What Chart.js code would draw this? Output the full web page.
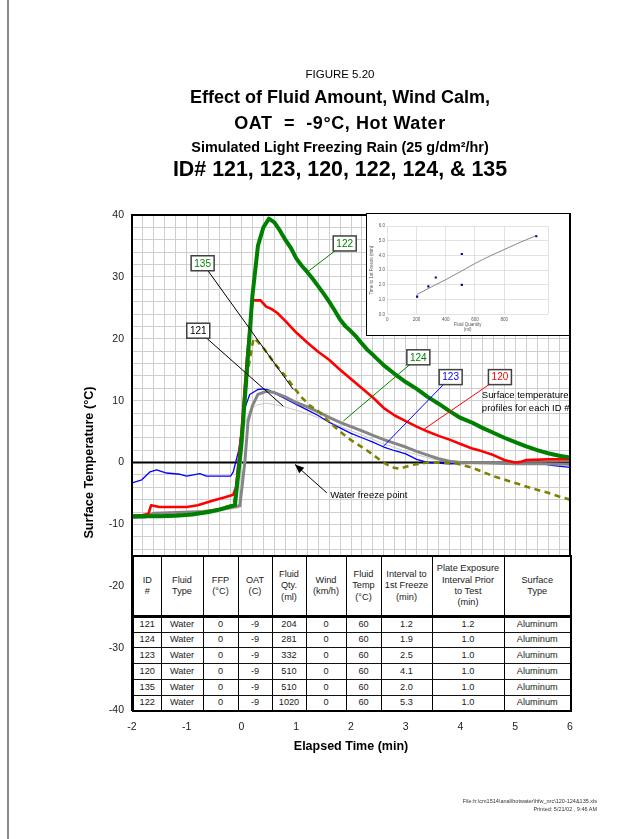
<!DOCTYPE html>
<html>
<head>
<meta charset="utf-8">
<script src="https://cdn.jsdelivr.net/npm/chart.js@4.4.1/dist/chart.umd.min.js"></script>
<style>
html,body{margin:0;padding:0;background:#fff;}
body{width:640px;height:839px;position:relative;overflow:hidden;font-family:"Liberation Sans",Arial,Helvetica,sans-serif;color:#000;}
#main{position:absolute;left:0;top:0;}
#pageline{position:absolute;left:7px;top:0;width:2px;height:839px;background:#8a8a8a;}
.t{position:absolute;left:340px;transform:translateX(-50%);white-space:pre;line-height:1;}
#f1{top:69.4px;font-size:11.5px;}
#f2{top:88.2px;font-size:18px;font-weight:bold;}
#f3{top:113.5px;font-size:18px;font-weight:bold;letter-spacing:0.6px;}
#f4{top:140.2px;font-size:14.4px;font-weight:bold;}
#f5{top:158.8px;font-size:21.4px;font-weight:bold;}
.foot{position:absolute;right:43px;font-size:5.5px;color:#333;white-space:pre;line-height:1;text-align:right;}
#tbl{position:absolute;border-collapse:collapse;table-layout:fixed;background:#fff;font-size:9.2px;color:#1a1a1a;}
#tbl th,#tbl td{border:1px solid #111;text-align:center;vertical-align:middle;padding:0;font-weight:normal;line-height:11.3px;overflow:hidden;white-space:nowrap;}
#tbl th{border-top:2px solid #000;border-bottom:3px solid #000;border-left:1.5px solid #000;border-right:1.5px solid #000;}
#tbl td{border-left:1.5px solid #000;border-right:1.5px solid #000;}
#tbl tr > *:first-child{border-left:2px solid #000;}
#tbl tr > *:last-child{border-right:2px solid #000;}
#tbl tbody tr:last-child td{border-bottom:2px solid #000;}
#inset{position:absolute;background:#fff;border:1px solid #000;border-right:2px solid #000;box-sizing:border-box;}
#insetCanvas{position:absolute;left:0;top:0;}
</style>
</head>
<body>
<div id="pageline"></div>
<canvas id="main" width="640" height="839"></canvas>
<div class="t" id="f1">FIGURE 5.20</div>
<div class="t" id="f2">Effect of Fluid Amount, Wind Calm,</div>
<div class="t" id="f3">OAT  =  -9°C, Hot Water</div>
<div class="t" id="f4">Simulated Light Freezing Rain (25 g/dm²/hr)</div>
<div class="t" id="f5">ID# 121, 123, 120, 122, 124, &amp; 135</div>
<table id="tbl"></table>
<div id="inset"><canvas id="insetCanvas"></canvas></div>
<div class="foot" style="top:799px;">File:h:\cm1514\anal\hotwater\hfw_nrc\120-124&amp;135.xls</div>
<div class="foot" style="top:807px;">Printed: 5/21/02 , 9:46 AM</div>
<script>
// ---------- Surface temperature profiles (time in min, temperature in °C) ----------
const t122 = [-2,-1.8,-1.5,-1.2,-0.9,-0.6,-0.4,-0.2,-0.12,0,0.1,0.2,0.3,0.4,0.5,0.6,0.7,0.8,0.9,1.0,1.1,1.2,1.3,1.4,1.5,1.6,1.7,1.8,1.9,2.0,2.1,2.2,2.3,2.4,2.6,2.8,3.0,3.2,3.4,3.6,3.8,4.0,4.2,4.4,4.6,4.8,5.0,5.2,5.4,5.6,5.8,6.0];
const T122 = [-8.7,-8.7,-8.7,-8.6,-8.4,-8.0,-7.6,-7.1,-6.9,3,15,27,35,38,39.4,38.8,37.5,36,34.7,33,31.8,30.8,29.7,28.5,27.3,26,24.6,23.1,22,21.2,20.3,19.2,18.2,17.4,15.7,14.3,13,11.9,10.6,9.5,8.3,7.2,6.5,5.6,4.8,4,3.3,2.6,2,1.5,1.1,0.8];

const t120 = [-2,-1.8,-1.7,-1.65,-1.5,-1.2,-1.0,-0.8,-0.65,-0.5,-0.3,-0.15,-0.1,0,0.1,0.2,0.35,0.45,0.55,0.65,0.8,1.0,1.2,1.4,1.6,1.8,2.0,2.2,2.4,2.6,2.8,3.0,3.2,3.4,3.6,3.8,4.0,4.2,4.4,4.6,4.8,5.0,5.1,5.2,5.6,6.0];
const T120 = [-8.6,-8.5,-8.3,-6.9,-7.2,-7.2,-7.2,-6.9,-6.5,-6.1,-5.6,-5.2,-4,5,17,26.2,26.2,25.2,24.8,24.2,22.9,21.0,19.4,17.9,16.6,15.0,13.5,12.0,10.5,8.8,7.6,6.7,5.8,5.0,4.3,3.7,3.0,2.3,1.8,1.2,0.4,0.0,0.1,0.4,0.5,0.5];

const t123 = [-2,-1.82,-1.67,-1.55,-1.37,-1.12,-1.0,-0.76,-0.64,-0.2,-0.15,-0.05,0.05,0.15,0.3,0.4,0.5,0.6,0.8,1.0,1.2,1.4,1.6,1.8,2.0,2.2,2.4,2.6,2.8,3.0,3.2,3.4,3.8,4.4,5.0,5.5,5.7,6.0];
const T123 = [-3.3,-2.8,-1.5,-1.2,-1.7,-1.9,-2.2,-1.8,-2.2,-2.2,-1.5,2,8.5,11.0,11.8,11.9,11.7,11.2,10.3,9.4,8.5,7.6,6.5,5.6,4.7,4.0,3.3,2.5,1.9,1.4,0.5,0.0,-0.2,-0.1,-0.1,-0.2,-0.5,-0.8];

const t124 = [-2,-1.75,-1.6,-1.2,-0.7,-0.4,-0.03,0.06,0.12,0.2,0.3,0.45,0.6,0.8,1.0,1.2,1.4,1.6,1.8,2.0,2.2,2.4,2.6,2.8,3.0,3.2,3.4,3.6,3.8,4.0,4.5,5.0,5.5,6.0];
const T124 = [-8.9,-8.8,-8.2,-8.1,-7.9,-7.6,-7.0,0,6.7,9.2,11.0,11.5,11.3,10.6,9.7,9.0,8.2,7.3,6.5,5.8,5.1,4.4,3.7,3.1,2.5,1.8,1.2,0.6,0.2,0.0,-0.1,-0.2,-0.2,-0.3];

const t121 = [-2,-1.5,-1.0,-0.5,-0.05,0.03,0.15,0.28,0.45,0.75,1.2,1.5,2.1,2.6,3.0,3.5,4.0,5.0,6.0];
const T121 = [-9.0,-8.8,-8.5,-8.0,-7.3,5.5,8.4,9.3,9.6,9.1,7.9,6.9,4.8,3.0,1.8,0.5,0,-0.1,-0.2];

const t135 = [-2,-1.5,-1.0,-0.7,-0.4,-0.15,-0.1,0,0.1,0.22,0.3,0.4,0.5,0.64,0.8,0.95,1.1,1.25,1.4,1.62,1.8,2.0,2.2,2.35,2.5,2.65,2.8,2.9,3.1,3.4,3.9,4.2,4.4,4.6,4.85,5.1,5.35,5.6,5.8,6.0];
const T135 = [-8.6,-8.6,-8.4,-8.0,-7.5,-6.8,-5,4,14,20.1,19.5,18.5,17.3,15.6,14.0,12.2,10.5,9.2,8.3,6.4,5.0,3.6,2.5,1.6,0.6,-0.3,-0.9,-1.0,-0.4,0.0,-0.1,-0.8,-1.5,-2.2,-2.9,-3.6,-4.3,-4.9,-5.5,-6.0];

// ---------- Table ----------
const tableHeaders = [["ID","#"],["Fluid","Type"],["FFP","(°C)"],["OAT","(C)"],["Fluid","Qty.","(ml)"],["Wind","(km/h)"],["Fluid","Temp","(°C)"],["Interval to","1st Freeze","(min)"],["Plate Exposure","Interval Prior","to Test","(min)"],["Surface","Type"]];
const ids        = ["121","124","123","120","135","122"];
const fluidType  = ["Water","Water","Water","Water","Water","Water"];
const ffp        = [0,0,0,0,0,0];
const oat        = [-9,-9,-9,-9,-9,-9];
const fluidQty   = [204,281,332,510,510,1020];
const wind       = [0,0,0,0,0,0];
const fluidTemp  = [60,60,60,60,60,60];
const firstFreeze= [1.2,1.9,2.5,4.1,2.0,5.3];
const exposure   = [1.2,1.0,1.0,1.0,1.0,1.0];
const surface    = ["Aluminum","Aluminum","Aluminum","Aluminum","Aluminum","Aluminum"];

// ---------- Inset trend line ----------
const trendQty  = [204,300,400,510,600,700,800,900,1020];
const trendTime = [1.35,1.85,2.35,2.95,3.45,3.95,4.4,4.85,5.35];

// ---------- Axis ticks ----------
const xMin=-2, xMax=6, xStep=0.2;
const yMin=-40, yMax=40, yStep=2, yLabelEvery=10;
const freezePoint = 0;
const tableTopTemp = -15;

const FONT = '"Liberation Sans", Arial, Helvetica, sans-serif';
function pts(t, v){ const n=Math.min(t.length,v.length); const r=[]; for(let i=0;i<n;i++) r.push({x:t[i],y:v[i]}); return r; }

// callouts: label box position (data units) and leader target (data units)
const callouts = [
  {txt:'122', bt:1.885, bT:35.4, tt:1.22, tT:30.9, color:'#008000', line:'#008000'},
  {txt:'135', bt:-0.71, bT:32.2, tt:0.946, tT:11.8, color:'#008000', line:'#000000'},
  {txt:'121', bt:-0.79, bT:21.3, tt:0.763, tT:9.1,  color:'#000000', line:'#000000'},
  {txt:'124', bt:3.23,  bT:17.0, tt:1.86, tT:6.7,  color:'#008000', line:'#008000'},
  {txt:'123', bt:3.82,  bT:13.8, tt:2.59, tT:2.6,  color:'#0000ff', line:'#0000ff'},
  {txt:'120', bt:4.72,  bT:13.8, tt:3.32, tT:5.3,  color:'#ff0000', line:'#ff0000'}
];

const deco = {
  id:'deco',
  beforeDatasetsDraw(c){
    const {ctx, chartArea:a, scales:{y}} = c;
    const y0 = y.getPixelForValue(freezePoint);
    ctx.save(); ctx.strokeStyle='#000'; ctx.lineWidth=2;
    ctx.beginPath(); ctx.moveTo(a.left,y0); ctx.lineTo(a.right,y0); ctx.stroke();
    ctx.restore();
  },
  afterDatasetsDraw(c){
    const {ctx, chartArea:a, scales:{x,y}} = c;
    ctx.save();
    callouts.forEach(o=>{
      ctx.strokeStyle=o.line; ctx.lineWidth=1;
      ctx.beginPath(); ctx.moveTo(x.getPixelForValue(o.bt), y.getPixelForValue(o.bT));
      ctx.lineTo(x.getPixelForValue(o.tt), y.getPixelForValue(o.tT)); ctx.stroke();
    });
    callouts.forEach(o=>{
      const cx=x.getPixelForValue(o.bt), cy=y.getPixelForValue(o.bT), w=23, h=15;
      ctx.fillStyle='#fff'; ctx.fillRect(cx-w/2,cy-h/2,w,h);
      ctx.strokeStyle='#404040'; ctx.lineWidth=1.5; ctx.strokeRect(cx-w/2,cy-h/2,w,h);
      ctx.fillStyle=o.color; ctx.font='10px '+FONT; ctx.textAlign='center'; ctx.textBaseline='middle';
      ctx.fillText(o.txt,cx,cy+0.5);
    });
    const ax0=x.getPixelForValue(1.558), ay0=y.getPixelForValue(-4.9);
    const ax1=x.getPixelForValue(0.977), ay1=y.getPixelForValue(-0.32);
    ctx.strokeStyle='#000'; ctx.lineWidth=1;
    ctx.beginPath(); ctx.moveTo(ax0,ay0); ctx.lineTo(ax1,ay1); ctx.stroke();
    const ang=Math.atan2(ay1-ay0,ax1-ax0), L=9, W=3.8;
    ctx.fillStyle='#000'; ctx.beginPath();
    ctx.moveTo(ax1,ay1);
    ctx.lineTo(ax1-L*Math.cos(ang)+W*Math.sin(ang), ay1-L*Math.sin(ang)-W*Math.cos(ang));
    ctx.lineTo(ax1-L*Math.cos(ang)-W*Math.sin(ang), ay1-L*Math.sin(ang)+W*Math.cos(ang));
    ctx.closePath(); ctx.fill();
    ctx.font='9.5px '+FONT; ctx.textAlign='left'; ctx.textBaseline='middle'; ctx.fillStyle='#000';
    ctx.fillText('Water freeze point', x.getPixelForValue(1.62), y.getPixelForValue(-5.33));
    ctx.save();
    ctx.beginPath(); ctx.rect(a.left,a.top,a.right-a.left,a.bottom-a.top); ctx.clip();
    ctx.fillText('Surface temperature', x.getPixelForValue(4.39), y.getPixelForValue(10.8));
    ctx.fillText('profiles for each ID #', x.getPixelForValue(4.39), y.getPixelForValue(8.7));
    ctx.restore();
    ctx.strokeStyle='#000'; ctx.lineWidth=2;
    ctx.strokeRect(a.left,a.top,a.right-a.left,a.bottom-a.top);
    ctx.restore();
  }
};

const isInt = v => Math.abs(v-Math.round(v))<1e-6;

const chart = new Chart(document.getElementById('main'), {
  type:'line',
  data:{datasets:[
    {label:'122', data:pts(t122,T122), borderColor:'#008000', borderWidth:4},
    {label:'135', data:pts(t135,T135), borderColor:'#808000', borderWidth:2.6, borderDash:[6,4.5]},
    {label:'120', data:pts(t120,T120), borderColor:'#ff0000', borderWidth:2.6},
    {label:'124', data:pts(t124,T124), borderColor:'#858585', borderWidth:3},
    {label:'123', data:pts(t123,T123), borderColor:'#0000ff', borderWidth:1.3},
    {label:'121', data:pts(t121,T121), borderColor:'#c8c8c8', borderWidth:1}
  ]},
  options:{
    responsive:false, animation:false, devicePixelRatio:1,
    layout:{padding:{left:0,top:215,right:70,bottom:0}},
    plugins:{legend:{display:false}, tooltip:{enabled:false}, title:{display:false}},
    elements:{point:{radius:0}, line:{tension:0, borderJoinStyle:'round', fill:false}},
    scales:{
      x:{type:'linear', min:xMin, max:xMax,
        ticks:{stepSize:xStep, autoSkip:false, maxRotation:0, minRotation:0, padding:11,
          callback:v=> isInt(v) ? String(Math.round(v)) : '', font:{family:FONT,size:10.5}, color:'#222'},
        grid:{color:'#cecece', lineWidth:1, drawTicks:false}, border:{display:false},
        title:{display:true, text:'Elapsed Time (min)', font:{family:FONT,size:12.5,weight:'bold'}, color:'#000', padding:{top:0,bottom:84.5}},
        afterFit:s=>{s.height=129;}},
      y:{type:'linear', min:yMin, max:yMax,
        ticks:{stepSize:yStep, autoSkip:false, padding:8,
          callback:v=> (Math.round(v)%yLabelEvery===0) ? String(Math.round(v)) : '', font:{family:FONT,size:10.5}, color:'#222'},
        grid:{color:'#cecece', lineWidth:1, drawTicks:false}, border:{display:false},
        title:{display:true, text:'Surface Temperature (°C)', font:{family:FONT,size:12.7,weight:'bold'}, color:'#000', padding:{top:82,bottom:0}},
        afterFit:s=>{s.width=132;}}
    }
  },
  plugins:[deco]
});

// ---------- Build and place table ----------
(function(){
  const tbl=document.getElementById('tbl');
  const colW=[28,42,35,34,34,40,35,51,72,67];
  const cg=document.createElement('colgroup');
  colW.forEach(w=>{const c=document.createElement('col'); c.style.width=w+'px'; cg.appendChild(c);});
  tbl.appendChild(cg);
  const thead=document.createElement('thead'); const hr=document.createElement('tr');
  tableHeaders.forEach(lines=>{
    const th=document.createElement('th');
    lines.forEach((l,i)=>{ if(i) th.appendChild(document.createElement('br')); th.appendChild(document.createTextNode(l)); });
    hr.appendChild(th);
  });
  thead.appendChild(hr); tbl.appendChild(thead);
  const tb=document.createElement('tbody');
  const cols=[ids,fluidType,ffp,oat,fluidQty,wind,fluidTemp,firstFreeze.map(v=>v.toFixed(1)),exposure.map(v=>v.toFixed(1)),surface];
  for(let r=0;r<ids.length;r++){
    const tr=document.createElement('tr');
    cols.forEach(col=>{const td=document.createElement('td'); td.textContent=String(col[r]); tr.appendChild(td);});
    tb.appendChild(tr);
  }
  tbl.appendChild(tb);
  const a=chart.chartArea, ys=chart.scales.y;
  const top=ys.getPixelForValue(tableTopTemp);
  const H=a.bottom-top, headH=60, rowH=(H-headH)/ids.length;
  tbl.style.left=a.left+'px'; tbl.style.top=top+'px';
  tbl.style.width=(a.right-a.left)+'px'; tbl.style.height=H+'px';
  hr.style.height=headH+'px';
  tb.querySelectorAll('tr').forEach(tr=>tr.style.height=rowH+'px');
})();

// ---------- Inset chart ----------
(function(){
  const a=chart.chartArea, xs=chart.scales.x, ys=chart.scales.y;
  const left=Math.round(xs.getPixelForValue(2.27)), top=a.top-2, right=a.right+1, bottom=Math.round(ys.getPixelForValue(20.4));
  const box=document.getElementById('inset');
  box.style.left=left+'px'; box.style.top=top+'px';
  box.style.width=(right-left)+'px'; box.style.height=(bottom-top)+'px';
  const cw=right-left-3, chh=bottom-top-2;
  const cv=document.getElementById('insetCanvas');
  cv.width=cw; cv.height=chh;
  const small={family:FONT,size:4.5};
  new Chart(cv,{
    type:'scatter',
    data:{datasets:[
      {data:pts(fluidQty,firstFreeze), pointStyle:'rect', pointRadius:1.5, backgroundColor:'#000080', borderColor:'#000080', borderWidth:0, showLine:false},
      {data:pts(trendQty,trendTime), showLine:true, pointRadius:0, borderColor:'#7a7a7a', borderWidth:0.9, cubicInterpolationMode:'monotone'}
    ]},
    options:{
      responsive:false, animation:false, devicePixelRatio:1,
      layout:{padding:{left:0,top:12,right:cw-181,bottom:0}},
      plugins:{legend:{display:false},tooltip:{enabled:false}},
      scales:{
        x:{type:'linear',min:0,max:1100,
          ticks:{stepSize:200,autoSkip:false,maxRotation:0,padding:3,callback:v=>(v%200===0)?String(v):'',font:small,color:'#555'},
          grid:{color:'#d6d6d6',lineWidth:0.7,drawTicks:false},border:{display:false},
          title:{display:true,text:['Fluid Quantity','(ml)'],font:{family:FONT,size:4.5,lineHeight:1.05},color:'#555',padding:{top:0,bottom:2.9}},
          afterFit:s=>{s.height=chh-100.3;}},
        y:{type:'linear',min:0,max:6,
          ticks:{stepSize:1,autoSkip:false,padding:2.3,callback:v=>Number(v).toFixed(1),font:small,color:'#555'},
          grid:{color:'#d6d6d6',lineWidth:0.7,drawTicks:false},border:{display:false},
          title:{display:true,text:'Time to 1st Freeze (min)',font:small,color:'#555',padding:{top:2,bottom:0}},
          afterFit:s=>{s.width=20.3;}}
      }
    }
  });
})();
</script>
</body>
</html>
